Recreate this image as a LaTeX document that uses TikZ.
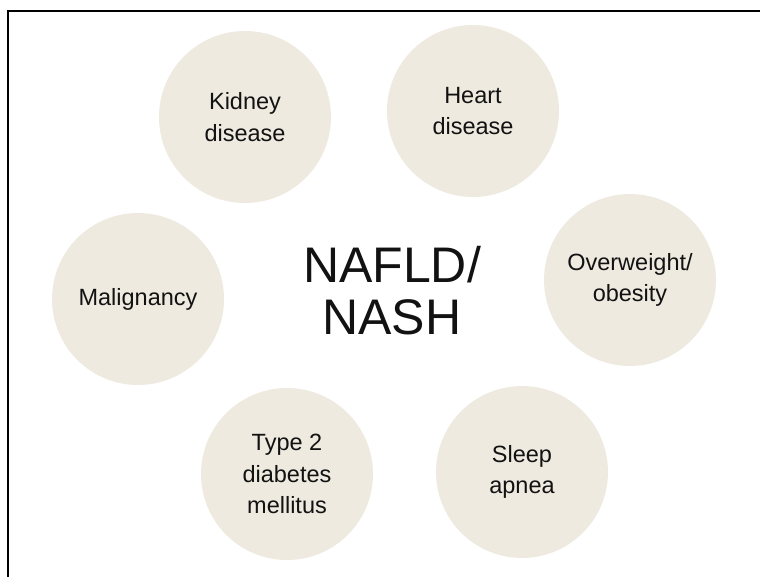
\documentclass[tikz,border=0pt]{standalone}
\usepackage{fontspec}
\setmainfont{Liberation Sans}
\definecolor{beige}{RGB}{238,234,224}
\definecolor{ink}{RGB}{18,18,18}
\begin{document}
\begin{tikzpicture}[x=1pt,y=-1pt,
  disc/.style={circle, fill=beige, minimum size=172pt, inner sep=0pt, align=center, text=ink, font=\fontsize{23.5}{31.5}\selectfont},
  hub/.style={align=center, text=ink, inner sep=0pt, font=\fontsize{50}{52}\selectfont},
  frameline/.style={draw=black, line width=1.5pt}]
\useasboundingbox (0,0) rectangle (760,576);
\coordinate (fbl) at (8,577);
\coordinate (ftl) at (8,11);
\coordinate (ftr) at (761,11);
\draw[frameline] (fbl) -- (ftl) -- (ftr);
\node[disc] (kidney) at (245,117) {Kidney\\disease};
\node[disc] (heart) at (473,111) {Heart\\disease};
\node[disc] (over) at (630,280) {Overweight/\\obesity};
\node[disc] (sleep) at (522,472) {Sleep\\apnea};
\node[disc] (type) at (287,474) {Type 2\\diabetes\\mellitus};
\node[disc] (malig) at (138,299) {Malignancy};
\node[hub] (nafld) at (392,291) {NAFLD/\\NASH};
\end{tikzpicture}
\end{document}
